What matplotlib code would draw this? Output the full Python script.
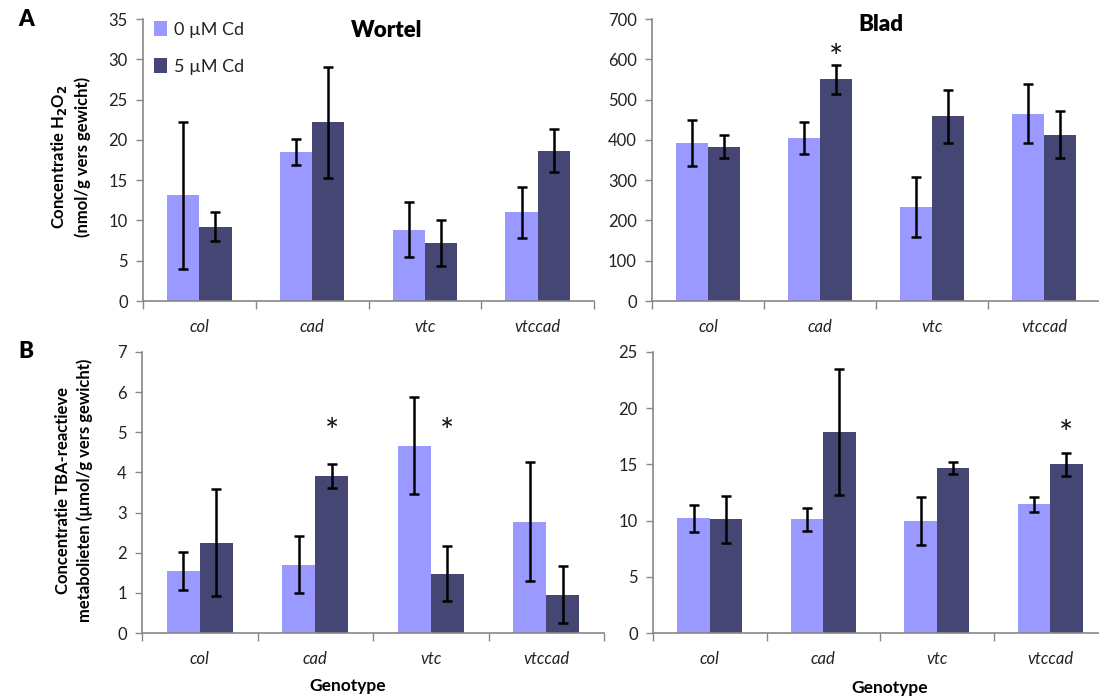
import matplotlib
matplotlib.use("Agg")
import matplotlib.pyplot as plt
import numpy as np

plt.rcParams['font.family'] = ['Lato', 'DejaVu Sans']

genotypes = ["col", "cad", "vtc", "vtccad"]
series_labels = ["0 µM Cd", "5 µM Cd"]

# H2O2 root (Wortel)
wortel_h2o2_0 = [13.1, 18.5, 8.85, 11.0]
wortel_h2o2_0_err = [9.1, 1.6, 3.4, 3.2]
wortel_h2o2_5 = [9.2, 22.2, 7.2, 18.65]
wortel_h2o2_5_err = [1.8, 6.9, 2.8, 2.7]

# H2O2 leaf (Blad)
blad_h2o2_0 = [392, 405, 234, 465]
blad_h2o2_0_err = [58, 40, 74, 74]
blad_h2o2_5 = [383, 550, 458, 413]
blad_h2o2_5_err = [29, 37, 66, 58]

# TBA root
wortel_tba_0 = [1.55, 1.70, 4.67, 2.77]
wortel_tba_0_err = [0.48, 0.71, 1.2, 1.48]
wortel_tba_5 = [2.25, 3.9, 1.48, 0.95]
wortel_tba_5_err = [1.33, 0.3, 0.68, 0.71]

# TBA leaf
blad_tba_0 = [10.2, 10.1, 9.95, 11.45]
blad_tba_0_err = [1.2, 1.05, 2.15, 0.65]
blad_tba_5 = [10.1, 17.9, 14.7, 15.0]
blad_tba_5_err = [2.05, 5.6, 0.55, 1.0]

# significance markers: (genotype index, series index, y)
stars_blad_h2o2 = [(1, 1, 600)]
stars_wortel_tba = [(1, 1, 4.97), (2, 1, 4.97)]
stars_blad_tba = [(3, 1, 17.6)]

c_light = "#9999FF"
c_dark = "#454673"
spine_c = "#888888"

W, H = 1099, 697
fig = plt.figure(figsize=(W / 100, H / 100), dpi=100)


def px_axes(x0, x1, ytop, ybot):
    return fig.add_axes([x0 / W, (H - ybot) / H, (x1 - x0) / W, (ybot - ytop) / H])


def draw(ax, v0, e0, v1, e1, ymax, ystep, stars):
    n = len(genotypes)
    x = np.arange(n)
    bw = 1 / 3.5
    ax.bar(x - bw / 2, v0, bw, color=c_light, label=series_labels[0], zorder=2)
    ax.bar(x + bw / 2, v1, bw, color=c_dark, label=series_labels[1], zorder=2)
    ek = dict(fmt='none', ecolor='black', elinewidth=1.8, capsize=3.5, capthick=1.8, zorder=3)
    ax.errorbar(x - bw / 2, v0, yerr=e0, **ek)
    ax.errorbar(x + bw / 2, v1, yerr=e1, **ek)
    for gi, si, yy in stars:
        xx = gi - bw / 2 if si == 0 else gi + bw / 2
        ax.text(xx, yy, "*", ha='center', va='center', fontsize=24, color='#111111')
    ax.set_xlim(-0.5, n - 0.5)
    ax.set_ylim(0, ymax)
    ax.set_yticks(np.arange(0, ymax + ystep / 2, ystep))
    ax.set_xticks(np.arange(-0.5, n, 1.0))
    ax.set_xticklabels([])
    ax.set_xticks(x, minor=True)
    ax.set_xticklabels(genotypes, minor=True, fontstyle='italic', fontsize=12, color='#222222')
    ax.tick_params(axis='x', which='minor', length=0, pad=13)
    ax.tick_params(axis='x', which='major', length=6, width=1, color=spine_c, direction='out')
    ax.tick_params(axis='y', length=5, width=1, color=spine_c, direction='out', labelsize=12,
                   labelcolor='#222222', pad=6)
    for s in ['top', 'right']:
        ax.spines[s].set_visible(False)
    for s in ['left', 'bottom']:
        ax.spines[s].set_color(spine_c)
        ax.spines[s].set_linewidth(1.2)
        ax.spines[s].set_clip_on(False)
    return ax


ax1 = px_axes(143, 594, 19, 301)
draw(ax1, wortel_h2o2_0, wortel_h2o2_0_err, wortel_h2o2_5, wortel_h2o2_5_err, 35, 5, [])
ax2 = px_axes(652, 1100, 19, 301)
draw(ax2, blad_h2o2_0, blad_h2o2_0_err, blad_h2o2_5, blad_h2o2_5_err, 700, 100, stars_blad_h2o2)
ax3 = px_axes(142, 604, 352, 633)
draw(ax3, wortel_tba_0, wortel_tba_0_err, wortel_tba_5, wortel_tba_5_err, 7, 1, stars_wortel_tba)
ax4 = px_axes(653, 1107, 352, 633)
draw(ax4, blad_tba_0, blad_tba_0_err, blad_tba_5, blad_tba_5_err, 25, 5, stars_blad_tba)

ax1.text(0.54, 0.96, "Wortel", transform=ax1.transAxes, ha='center', va='center',
         fontsize=16, fontweight='heavy')
ax2.text(0.51, 0.98, "Blad", transform=ax2.transAxes, ha='center', va='center',
         fontsize=16, fontweight='heavy')

leg = ax1.legend(loc='upper left', bbox_to_anchor=(0.0, 1.03), frameon=False, fontsize=13,
                 handlelength=0.75, handleheight=0.9, handletextpad=0.35, labelspacing=1.1,
                 borderaxespad=0.2)
for t in leg.get_texts():
    t.set_color('#222222')

fig.text(18 / W, 1 - 20 / H, "A", fontsize=16, fontweight='heavy', ha='left', va='center')
fig.text(18 / W, 1 - 352 / H, "B", fontsize=16, fontweight='heavy', ha='left', va='center')

fig.text(59 / W, 1 - 157 / H, "Concentratie H$_\\mathbf{2}$O$_\\mathbf{2}$", rotation=90,
         fontsize=12, fontweight='bold', ha='center', va='center')
fig.text(83 / W, 1 - 157 / H, "(nmol/g vers gewicht)", rotation=90,
         fontsize=12, fontweight='bold', ha='center', va='center')
fig.text(63 / W, 1 - 490 / H, "Concentratie TBA-reactieve", rotation=90,
         fontsize=12, fontweight='bold', ha='center', va='center')
fig.text(85 / W, 1 - 490 / H, "metabolieten (µmol/g vers gewicht)", rotation=90,
         fontsize=12, fontweight='bold', ha='center', va='center')

fig.text(348 / W, 1 - 686 / H, "Genotype", fontsize=12.5, fontweight='bold', ha='center', va='center')
fig.text(890 / W, 1 - 688 / H, "Genotype", fontsize=12.5, fontweight='bold', ha='center', va='center')

fig.savefig("out.png", dpi=100)
